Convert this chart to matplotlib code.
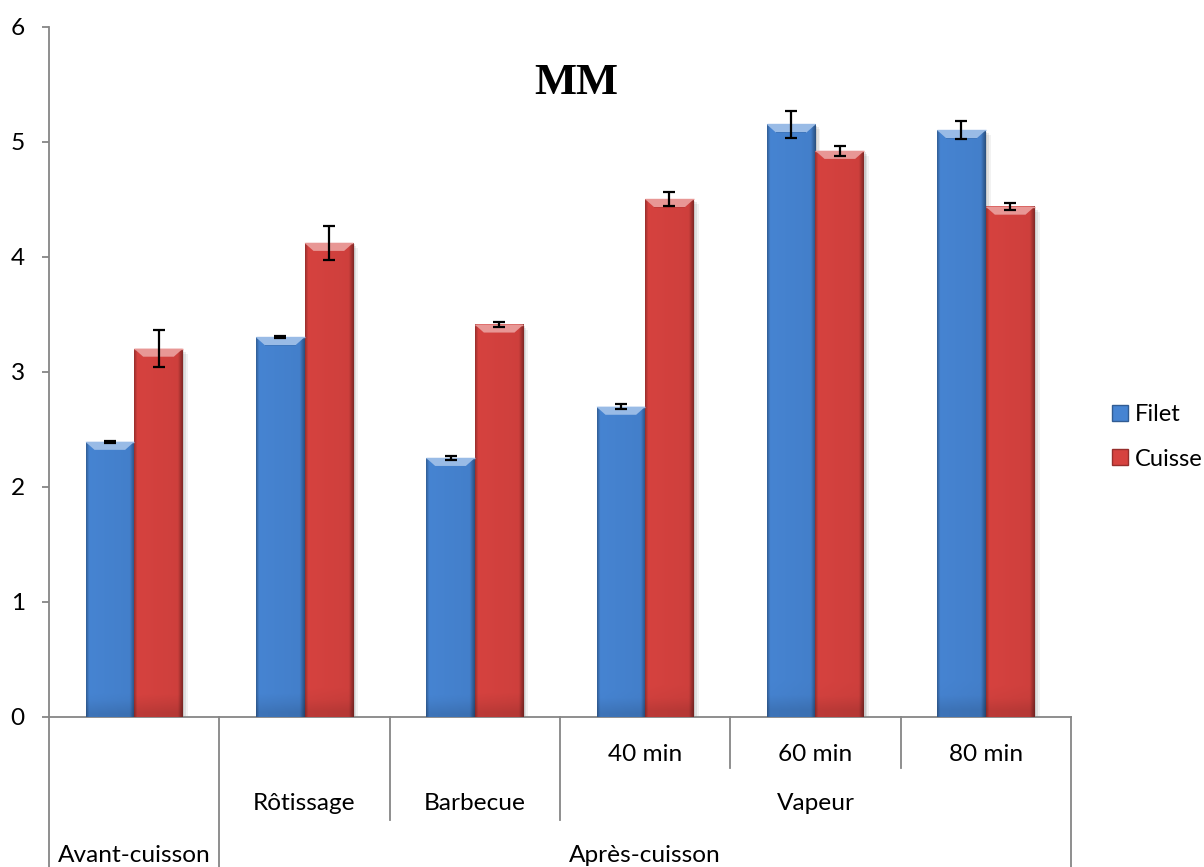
import numpy as np
import matplotlib
matplotlib.use("Agg")
import matplotlib.pyplot as plt
import matplotlib.transforms as mtransforms
from matplotlib.patches import Polygon, Rectangle, Patch
from matplotlib.lines import Line2D

# ---------------- data ----------------
level1 = ["", "", "", "40 min", "60 min", "80 min"]
level2 = ["", "Rôtissage", "Barbecue", "Vapeur", "Vapeur", "Vapeur"]
level3 = ["Avant-cuisson", "Après-cuisson", "Après-cuisson",
          "Après-cuisson", "Après-cuisson", "Après-cuisson"]
series_names = ["Filet", "Cuisse"]
filet = [2.39, 3.30, 2.25, 2.695, 5.15, 5.10]
filet_err = [0.01, 0.01, 0.02, 0.02, 0.12, 0.08]
cuisse = [3.20, 4.12, 3.41, 4.50, 4.92, 4.435]
cuisse_err = [0.16, 0.15, 0.025, 0.06, 0.045, 0.03]
yticks = [0, 1, 2, 3, 4, 5, 6]
title = "MM"

# ---------------- style ----------------
plt.rcParams["font.family"] = ["Lato", "DejaVu Sans"]
W, H = 1204, 867
BLUE = np.array([70, 132, 210]) / 255
RED = np.array([214, 66, 63]) / 255
AXC = "#868686"
FS = 17.6

fig = plt.figure(figsize=(W / 100, H / 100), dpi=100)
ax_left, ax_right, ax_top, ax_bot = 49, 1071, 26.7, 716.7
ax = fig.add_axes([ax_left / W, 1 - ax_bot / H, (ax_right - ax_left) / W,
                   (ax_bot - ax_top) / H])
n = len(filet)
x = np.arange(n)
bw = 1 / 3.5

bars1 = ax.bar(x - bw / 2, filet, bw, color=BLUE, zorder=2, linewidth=0)
bars2 = ax.bar(x + bw / 2, cuisse, bw, color=RED, zorder=2, linewidth=0)
ax.errorbar(x - bw / 2, filet, yerr=filet_err, fmt="none", ecolor="black",
            elinewidth=1.6, capsize=4.5, capthick=1.6, zorder=8)
ax.errorbar(x + bw / 2, cuisse, yerr=cuisse_err, fmt="none", ecolor="black",
            elinewidth=1.6, capsize=4.5, capthick=1.6, zorder=8)

ax.set_xlim(-0.5, n - 0.5)
ax.set_ylim(yticks[0], yticks[-1])

# pixel -> data scale
px_x = ax.bbox.width / (n)          # pixels per x unit
px_y = ax.bbox.height / (yticks[-1] - yticks[0])


def shade(bars, base):
    nx = 64
    t = np.linspace(0, 1, nx)
    prof = 1 - 0.28 * np.clip((0.06 - t) / 0.06, 0, 1) - 0.35 * np.clip((t - 0.90) / 0.10, 0, 1)
    prof = prof - 0.04 * t
    for p in bars:
        x0, w, h = p.get_x(), p.get_width(), p.get_height()
        ny = 40
        v = np.linspace(0, 1, ny)
        vprof = 1 - 0.12 * np.clip((0.15 - v * h / 1.0) / 0.15, 0, 1)
        img = base[None, None, :] * prof[None, :, None] * vprof[:, None, None]
        img = np.clip(img, 0, 1)
        ax.imshow(img, extent=(x0, x0 + w, 0, h), origin="lower",
                  aspect="auto", interpolation="bilinear", zorder=3)
        # soft shadow
        for k, a in [(5, 0.05), (3, 0.08), (1.5, 0.10)]:
            ax.add_patch(Rectangle((x0 + k / px_x, 0), w, h - k / px_y,
                                   facecolor="black", alpha=a, linewidth=0, zorder=1.5))
        dx, dy = 9 / px_x, 8 / px_y
        light = np.clip(base * 0.55 + 0.45, 0, 1)
        ax.add_patch(Polygon([(x0, h), (x0 + w, h), (x0 + w - dx, h - dy), (x0 + dx, h - dy)],
                             closed=True, facecolor=light, edgecolor="none", zorder=4))
        ax.add_patch(Polygon([(x0 + dx, h - dy), (x0 + w - dx, h - dy),
                              (x0 + w - dx, h - dy * 1.05), (x0 + dx, h - dy * 1.05)],
                             closed=True, facecolor=base * 0.9, edgecolor="none", zorder=4))
        ax.plot([x0, x0 + w], [h, h], color=light, lw=1, zorder=4.5, solid_capstyle="butt")


shade(bars1, BLUE)
shade(bars2, RED)
ax.set_xlim(-0.5, n - 0.5)
ax.set_ylim(yticks[0], yticks[-1])

# axes style
for s in ["top", "right"]:
    ax.spines[s].set_visible(False)
for s in ["left", "bottom"]:
    ax.spines[s].set_color(AXC)
    ax.spines[s].set_linewidth(1.3)
ax.set_yticks(yticks)
ax.set_yticklabels([str(v) for v in yticks], fontsize=FS)
ax.tick_params(axis="y", length=5, width=1.3, color=AXC, pad=12.5)
ax.set_xticks([])

# multi-level category axis
trans = mtransforms.blended_transform_factory(ax.transData, fig.transFigure)
row_px = [ax_bot, 768.3, 820, H + 5]
base_px = [761, 810, 862]
levels = [level1, level2, level3]


def fy(px):
    return 1 - px / H


# separators
bounds = [-0.5 + i for i in range(n + 1)]
for i, b in enumerate(bounds):
    if i == 0 or i == n:
        depth = 3
    else:
        depth = 1
        for r in range(len(levels) - 1, 0, -1):
            if levels[r][i - 1] != levels[r][i]:
                depth = r + 1
                break
    fig.add_artist(Line2D([b, b], [fy(ax_bot), fy(row_px[depth])], transform=trans,
                          color=AXC, lw=1.3))

for r, lab in enumerate(levels):
    i = 0
    while i < n:
        j = i
        while j + 1 < n and lab[j + 1] == lab[i]:
            j += 1
        if lab[i]:
            fig.text((i + j) / 2, fy(base_px[r]), lab[i], transform=trans,
                     ha="center", va="baseline", fontsize=FS, color="black")
        i = j + 1

# title
fig.text(576.7 / W, fy(94), title, ha="center", va="baseline", fontsize=32,
         fontweight="bold", family="Liberation Serif")

# legend
handles = [Patch(facecolor=BLUE, edgecolor=BLUE * 0.7, linewidth=1),
           Patch(facecolor=RED, edgecolor=RED * 0.7, linewidth=1)]
fig.legend(handles, series_names, loc="upper left", bbox_to_anchor=(1112 / W, fy(404)),
           bbox_transform=fig.transFigure, frameon=False, fontsize=17,
           handlelength=0.68, handleheight=0.68, handletextpad=0.28,
           labelspacing=1.0, borderpad=0, borderaxespad=0)

fig.savefig("out.png", dpi=100)
